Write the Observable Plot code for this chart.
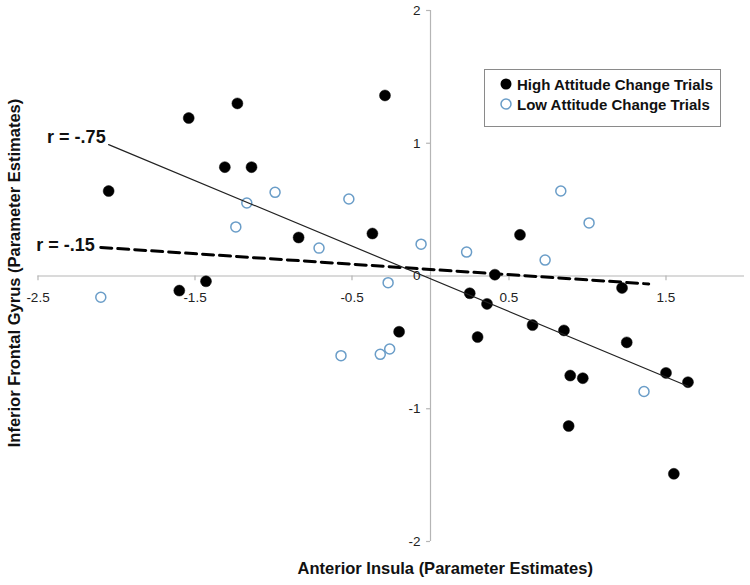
<!DOCTYPE html>
<html>
<head>
<meta charset="utf-8">
<script src="https://cdn.jsdelivr.net/npm/d3@7"></script>
<script src="https://cdn.jsdelivr.net/npm/@observablehq/plot@0.6"></script>
<style>
  html, body { margin: 0; padding: 0; background: white; }
  #wrap { position: relative; width: 750px; height: 585px; font-family: "Liberation Sans", Arial, Helvetica, sans-serif; }
  #legend { position: absolute; left: 484px; top: 69px; width: 237px; height: 58px; border: 1px solid #8a8a8a; background: white; box-sizing: border-box; padding-top: 4px; }
  .row { display: flex; align-items: center; font-weight: bold; font-size: 15px; color: #111; height: 20px; padding-left: 14px; }
  .row svg { margin-right: 4px; }
</style>
</head>
<body>
<div id="wrap"></div>
<script>
// High attitude change trials (filled black)
const highX = [-2.05,-1.54,-1.23,-1.31,-1.14,-0.29,-0.84,-0.37,-1.60,-1.43,-0.20,0.25,0.36,0.30,0.57,0.65,0.41,0.85,0.89,0.97,0.88,1.22,1.25,1.50,1.64,1.55];
const highY = [0.64,1.19,1.30,0.82,0.82,1.36,0.29,0.32,-0.11,-0.04,-0.42,-0.13,-0.21,-0.46,0.31,-0.37,0.01,-0.41,-0.75,-0.77,-1.13,-0.09,-0.50,-0.73,-0.80,-1.49];
// Low attitude change trials (open blue)
const lowX = [-2.10,-1.24,-1.17,-0.99,-0.52,-0.71,-0.57,-0.32,-0.26,-0.27,-0.06,0.23,0.73,0.83,1.01,1.36];
const lowY = [-0.16,0.37,0.55,0.63,0.58,0.21,-0.60,-0.59,-0.55,-0.05,0.24,0.18,0.12,0.64,0.40,-0.87];
// Fit lines (endpoints)
const fitHighX = [-2.05, 1.64];
const fitHighY = [0.99, -0.83];
const fitLowX = [-2.10, 1.39];
const fitLowY = [0.215, -0.06];
const rLabels = ["r = -.75", "r = -.15"];
const xTicks = [-2.5, -1.5, -0.5, 0.5, 1.5];
const yTicks = [-2, -1, 0, 1, 2];
const xTitle = "Anterior Insula (Parameter Estimates)";
const yTitle = "Inferior Frontal Gyrus (Parameter Estimates)";
const seriesNames = ["High Attitude Change Trials", "Low Attitude Change Trials"];

const high = highX.map((x, i) => ({x, y: highY[i]}));
const low = lowX.map((x, i) => ({x, y: lowY[i]}));
const fitHigh = fitHighX.map((x, i) => ({x, y: fitHighY[i]}));
const fitLow = fitLowX.map((x, i) => ({x, y: fitLowY[i]}));

const axisColor = "#b5b5b5";
const blue = "#6a9dc8";

const chart = Plot.plot({
  width: 750,
  height: 585,
  marginLeft: 37.5,
  marginRight: 6,
  marginTop: 10,
  marginBottom: 44,
  x: {domain: [-2.5, 2.0], axis: null},
  y: {domain: [-2, 2], axis: null},
  style: {fontFamily: "'Liberation Sans', Arial, Helvetica, sans-serif", background: "white", color: "#222"},
  marks: [
    Plot.ruleY([0], {stroke: axisColor, strokeWidth: 1.2}),
    Plot.ruleX([0], {stroke: axisColor, strokeWidth: 1.2}),
    Plot.ruleX(xTicks, {x: d => d, y1: 0, y2: -0.035, stroke: axisColor, strokeWidth: 1.2}),
    Plot.ruleY(yTicks, {y: d => d, x1: 0, x2: -0.025, stroke: axisColor, strokeWidth: 1.2}),
    Plot.text(xTicks, {x: d => d, y: 0, dy: 22, text: d => String(d), fontSize: 13.5, fill: "#222"}),
    Plot.text(yTicks, {x: 0, y: d => d, dx: -10, textAnchor: "end", text: d => String(d), fontSize: 13.5, fill: "#222"}),
    Plot.line(fitLow, {x: "x", y: "y", stroke: "black", strokeWidth: 3, strokeDasharray: "11,6"}),
    Plot.dot(low, {x: "x", y: "y", r: 5, stroke: blue, strokeWidth: 1.5, fill: "white"}),
    Plot.dot(high, {x: "x", y: "y", r: 5.5, fill: "black", stroke: "#111", strokeWidth: 0.5}),
    Plot.line(fitHigh, {x: "x", y: "y", stroke: "#222", strokeWidth: 1.2}),
    Plot.text([rLabels[0]], {x: fitHighX[0], y: fitHighY[0], dx: -3, dy: -7, textAnchor: "end", fontSize: 18, fontWeight: "bold", fill: "#111"}),
    Plot.text([rLabels[1]], {x: fitLowX[0], y: fitLowY[0], dx: -6, dy: -2, textAnchor: "end", fontSize: 18, fontWeight: "bold", fill: "#111"}),
    Plot.text([xTitle], {frameAnchor: "bottom", dx: 54, dy: 32, fontSize: 16.5, fontWeight: "bold", fill: "#111"}),
    Plot.text([yTitle], {frameAnchor: "left", textAnchor: "middle", dx: -23, dy: -3, rotate: -90, fontSize: 16.5, fontWeight: "bold", fill: "#111"})
  ]
});

const wrap = document.getElementById("wrap");
wrap.appendChild(chart);

const legend = document.createElement("div");
legend.id = "legend";
legend.innerHTML = `
  <div class="row"><svg width="14" height="14"><circle cx="7" cy="7" r="5.5" fill="black"/></svg>${seriesNames[0]}</div>
  <div class="row"><svg width="14" height="14"><circle cx="7" cy="7" r="5" fill="white" stroke="${blue}" stroke-width="1.5"/></svg>${seriesNames[1]}</div>`;
wrap.appendChild(legend);
</script>
</body>
</html>
